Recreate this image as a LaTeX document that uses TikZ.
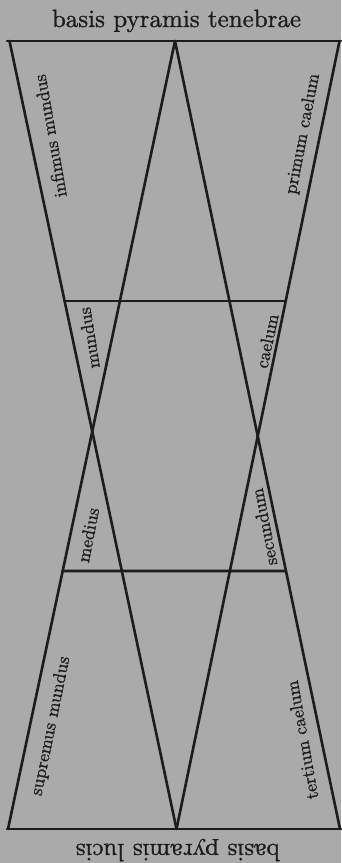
\documentclass[tikz,border=0pt]{standalone}
\usepackage{fontspec}
\newfontfamily\inkfont{lmroman10-regular.otf}[FakeBold=1]
\usetikzlibrary{calc}
\definecolor{bggray}{RGB}{170,170,170}
\definecolor{ink}{RGB}{28,28,28}
\begin{document}
\begin{tikzpicture}[x=1pt,y=1pt,
  edge/.style={draw=ink,line width=2.6pt,line cap=round,line join=round},
  title/.style={text=ink,font=\inkfont\fontsize{25}{30}\selectfont,inner sep=0pt,anchor=base},
  lab/.style={text=ink,font=\inkfont\fontsize{18}{20}\selectfont,inner sep=0pt}]
\fill[bggray] (0,0) rectangle (341,863);
\useasboundingbox (0,0) rectangle (341,863);
% corners and apexes
\coordinate (TL) at (9.5,822);
\coordinate (TA) at (175,822);
\coordinate (TR) at (339.5,822);
\coordinate (BL) at (8,34);
\coordinate (BA) at (176.5,34);
\coordinate (BR) at (340,34);
\coordinate (TLe) at (7,822);
\coordinate (TRe) at (341,822);
\coordinate (BLe) at (7,34);
\coordinate (BRe) at (341,34);
\coordinate (Ua) at (0,562);
\coordinate (Ub) at (341,562);
\coordinate (La) at (0,292);
\coordinate (Lb) at (341,292);
\coordinate (U1) at (intersection of TL--BA and Ua--Ub);
\coordinate (U2) at (intersection of TR--BA and Ua--Ub);
\coordinate (L1) at (intersection of TA--BL and La--Lb);
\coordinate (L2) at (intersection of TA--BR and La--Lb);
% base lines
\draw[edge] (TLe) -- (TRe);
\draw[edge] (BLe) -- (BRe);
% crossing lines
\draw[edge] (TL) -- (BA);
\draw[edge] (TA) -- (BL);
\draw[edge] (TR) -- (BA);
\draw[edge] (TA) -- (BR);
% horizontal lines
\draw[edge] (U1) -- (U2);
\draw[edge] (L1) -- (L2);
% titles
\node[title] (ttop) at (176.5,836) {basis pyramis tenebrae};
\node[title,rotate=180] (tbot) at (178,19) {basis pyramis lucis};
% labels
\node[lab,rotate=100] (l1) at (50,727) {infimus mundus};
\node[lab,rotate=79] (l2) at (303,729) {primum caelum};
\node[lab,rotate=99] (l3) at (89,525) {mundus};
\node[lab,rotate=78] (l4) at (267,522) {caelum};
\node[lab,rotate=79] (l5) at (88,328) {medius};
\node[lab,rotate=101] (l6) at (264,336) {secundum};
\node[lab,rotate=78.5] (l7) at (51,137) {supremus mundus};
\node[lab,rotate=100] (l8) at (302,123) {tertium caelum};
\end{tikzpicture}
\end{document}
